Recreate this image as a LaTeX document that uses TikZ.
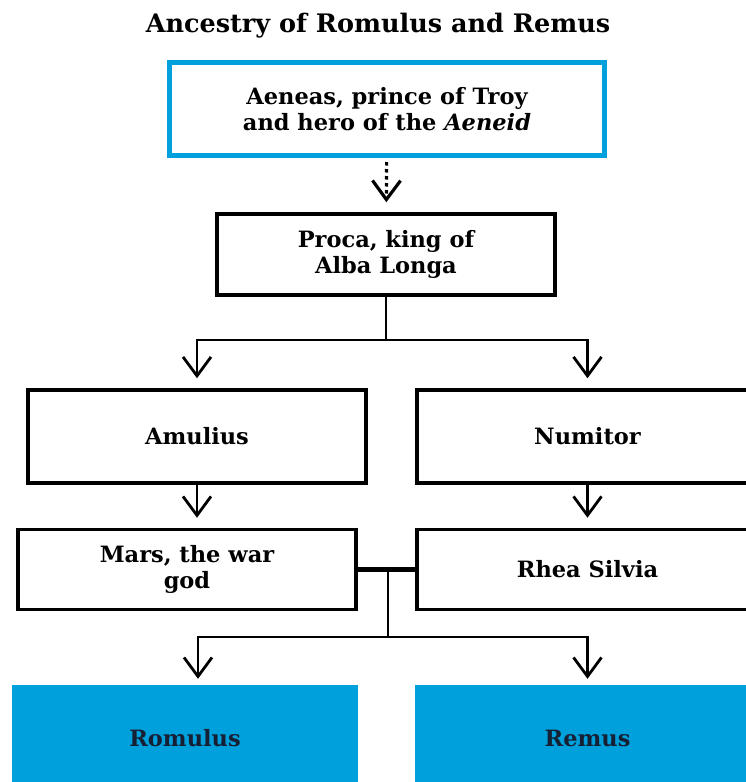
\documentclass[tikz,border=0pt]{standalone}
\usepackage{fontspec}
\setmainfont{DejaVu Serif}
\usepackage{tikz}
\usetikzlibrary{arrows.meta, calc}
\definecolor{romeblue}{RGB}{0,160,220}
\definecolor{inkblue}{RGB}{22,32,52}

\begin{document}
\begin{tikzpicture}[x=1pt, y=-1pt,
		person/.style={draw=black, line width=3.5pt, align=center, inner sep=0pt, font=\fontsize{22.5}{26}\bfseries\selectfont},
		twin/.style={fill=romeblue, text=inkblue, inner sep=0pt, font=\fontsize{22.5}{26}\bfseries\selectfont},
		link/.style={black, line width=2.8pt},
		arrow/.style={link, -{Straight Barb[length=19pt, width=28pt]}, shorten >=10pt}]
				\useasboundingbox (0,0) rectangle (746,782);
				\node (title) at (378,26) {\fontsize{25.5}{30}\bfseries\selectfont Ancestry of Romulus and Remus};
				\node[person, draw=romeblue, line width=5pt, minimum width=435pt, minimum height=93pt] (aeneas) at (387,109) {Aeneas, prince of Troy\\and hero of the \textit{Aeneid}};
				\node[person, minimum width=338pt, minimum height=81pt] (proca) at (386,254.5) {Proca, king of\\Alba Longa};
				\node[person, minimum width=338pt, minimum height=93pt] (amulius) at (197,436.5) {Amulius};
				\node[person, minimum width=341pt, minimum height=93pt] (numitor) at (587.5,436.5) {Numitor};
				\node[person, minimum width=338pt, minimum height=80pt] (mars) at (187,569.5) {Mars, the war\\god};
				\node[person, minimum width=341pt, minimum height=80pt] (rhea) at (587.5,569.5) {Rhea Silvia};
				\node[twin, minimum width=346pt, minimum height=106pt] (romulus) at (185,738) {Romulus};
				\node[twin, minimum width=345pt, minimum height=106pt] (remus) at (587.5,738) {Remus};
				\coordinate (split) at (386,340);
				\coordinate (wed) at ($(mars.east)!0.5!(rhea.west)$);
				\coordinate (twins) at (388,637);
				\draw[arrow, dash pattern=on 3.5pt off 3.5pt, line width=3.2pt, shorten <=4pt] (aeneas) -- (proca);
				\draw[link] (proca) -- (split);
				\draw[arrow] (split) -| (amulius);
				\draw[arrow] (split) -| (numitor);
				\draw[arrow] (amulius) -- (amulius |- mars.north);
				\draw[arrow] (numitor) -- (numitor |- rhea.north);
				\draw[link, line width=5pt] (mars) -- (rhea);
				\draw[link] (wed -| twins) -- (twins);
				\draw[arrow, shorten >=6pt] (twins) -| ([xshift=13pt]romulus.north);
				\draw[arrow, shorten >=6pt] (twins) -| (remus);
			\end{tikzpicture}
\end{document}
